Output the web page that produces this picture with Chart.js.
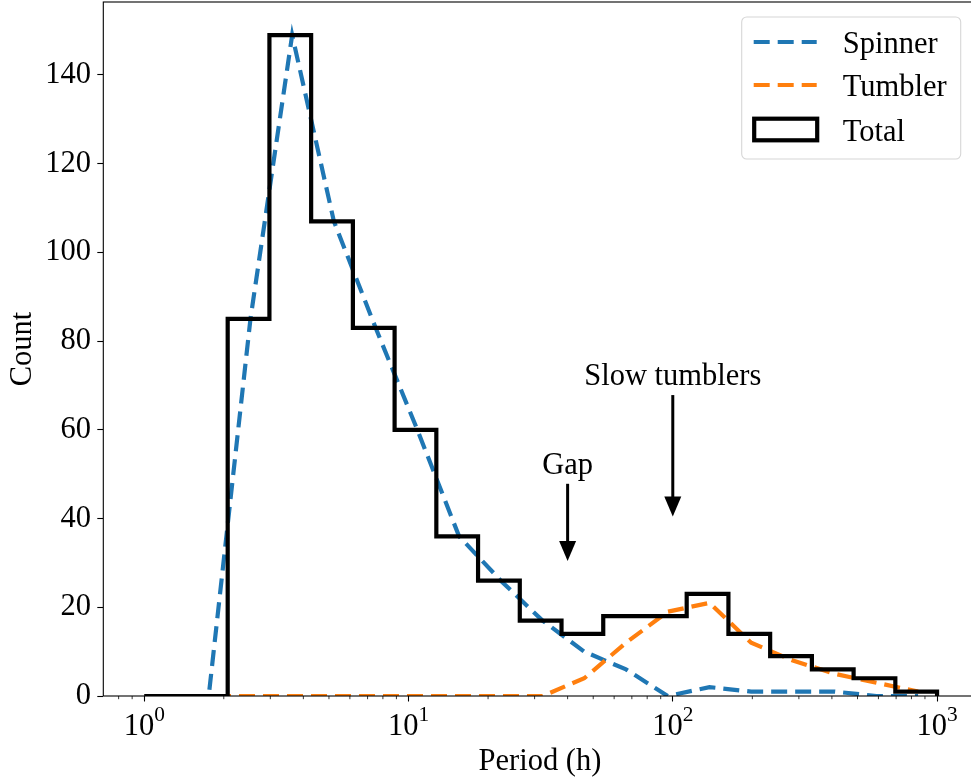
<!DOCTYPE html>
<html lang="en">
    <head>
        <meta charset="utf-8" />
        <script src="https://cdn.jsdelivr.net/npm/chart.js@4.4.1/dist/chart.umd.min.js"></script>
        <style>
            html, body { margin: 0; padding: 0; background: #fff; overflow: hidden; }
            canvas { display: block; }
        </style>
        <title>Period histogram</title>
    </head>
    <body>
        <canvas id="grafico" width="980" height="780"></canvas>
        <script>
            // bin edges (20 edges, log spaced from 1 h to 1000 h)
            const binEdges = [1, 1.4384, 2.0691, 2.9764, 4.2813, 6.1585, 8.8587, 12.743, 18.33, 26.367, 37.927, 54.556, 78.476, 112.88, 162.38, 233.57, 335.98, 483.29, 695.19, 1000];
            // bin centers used by the dashed curves
            const binCenters = [1.2192, 1.7538, 2.5228, 3.6289, 5.2199, 7.5086, 10.801, 15.537, 22.349, 32.147, 46.242, 66.516, 95.678, 137.63, 197.98, 284.78, 409.64, 589.24, 847.6];
            const totalCounts = [0, 0, 85, 149, 107, 83, 60, 36, 26, 17, 14, 18, 18, 23, 14, 9, 6, 4, 1];
            const spinnerCounts = [0, 0, 85, 149, 107, 83, 60, 36, 26, 17, 10, 6, 0, 2, 1, 1, 1, 0, 0];
            const tumblerCounts = [0, 0, 0, 0, 0, 0, 0, 0, 0, 0, 4, 12, 19, 21, 12, 8, 5, 3, 1];
            const seriesLabels = ["Spinner", "Tumbler", "Total"];
            const xMajorTicks = [1, 10, 100, 1000];
            const xTickExponents = ["0", "1", "2", "3"];
            const xMinorTicks = [0.8, 0.9, 2, 3, 4, 5, 6, 7, 8, 9, 20, 30, 40, 50, 60, 70, 80, 90, 200, 300, 400, 500, 600, 700, 800, 900];
            const yTicks = [0, 20, 40, 60, 80, 100, 120, 140];
            // annotations: label, x of arrow, y of text baseline, y of arrow tip
            const annotLabels = ["Gap", "Slow tumblers"];
            const annotX = [40, 100];
            const annotTextY = [50, 70];
            const annotTipY = [30, 40];

            const fuente = "'Liberation Serif', 'Times New Roman', serif";
            const tam = 30.5;
            Chart.defaults.font.family = fuente;
            Chart.defaults.font.size = tam;
            Chart.defaults.color = "#000";

            // step outline of the total histogram
            const totalStep = binEdges.map((e, i) => ({ x: e, y: totalCounts[Math.min(i, totalCounts.length - 1)] }));
            totalStep.push({ x: binEdges[binEdges.length - 1], y: 0 });

            const marco = {
                id: "marco",
                afterDraw(chart) {
                    const { ctx, chartArea: a, scales } = chart;
                    ctx.save();
                    // minor ticks
                    ctx.strokeStyle = "#000";
                    ctx.lineWidth = 0.8;
                    xMinorTicks.forEach((v) => {
                        const px = scales.x.getPixelForValue(v);
                        if (px < a.left || px > a.right) return;
                        ctx.beginPath();
                        ctx.moveTo(px, a.bottom);
                        ctx.lineTo(px, a.bottom + 3.2);
                        ctx.stroke();
                    });
                    // spines
                    ctx.lineWidth = 1.1;
                    ctx.strokeRect(a.left, a.top, a.right - a.left, a.bottom - a.top);

                    // x tick labels as 10 with a raised exponent
                    ctx.fillStyle = "#000";
                    ctx.textBaseline = "alphabetic";
                    ctx.textAlign = "left";
                    const fBase = tam + "px " + fuente;
                    const fExp = (tam * 0.7) + "px " + fuente;
                    xMajorTicks.forEach((v, i) => {
                        const px = scales.x.getPixelForValue(v);
                        ctx.font = fBase;
                        const wb = ctx.measureText("10").width;
                        ctx.font = fExp;
                        const we = ctx.measureText(xTickExponents[i]).width;
                        const x0 = px - (wb + we) / 2;
                        const base = a.bottom + 39;
                        ctx.font = fBase;
                        ctx.fillText("10", x0, base);
                        ctx.font = fExp;
                        ctx.fillText(xTickExponents[i], x0 + wb, base - 14.5);
                    });

                    // annotations with arrows
                    ctx.font = tam + "px " + fuente;
                    ctx.textAlign = "center";
                    annotLabels.forEach((txt, i) => {
                        const px = scales.x.getPixelForValue(annotX[i]);
                        const ty = scales.y.getPixelForValue(annotTextY[i]);
                        const tip = scales.y.getPixelForValue(annotTipY[i]) - 2;
                        ctx.fillText(txt, px, ty);
                        const start = ty + tam * 0.216 + 3;
                        ctx.lineWidth = 3;
                        ctx.beginPath();
                        ctx.moveTo(px, start);
                        ctx.lineTo(px, tip - 18);
                        ctx.stroke();
                        ctx.beginPath();
                        ctx.moveTo(px, tip);
                        ctx.lineTo(px - 8.5, tip - 20);
                        ctx.lineTo(px + 8.5, tip - 20);
                        ctx.closePath();
                        ctx.fill();
                    });

                    // legend box
                    const w = 219, h = 142;
                    const x0 = a.right - 16 - w, y0 = a.top + 15;
                    ctx.beginPath();
                    ctx.roundRect(x0, y0, w, h, 5);
                    ctx.fillStyle = "rgba(255,255,255,0.8)";
                    ctx.fill();
                    ctx.strokeStyle = "#d6d6d6";
                    ctx.lineWidth = 1.1;
                    ctx.stroke();
                    const filas = [25, 68, 112.5];
                    ctx.textAlign = "left";
                    chart.data.datasets.forEach((ds, i) => {
                        const yy = y0 + filas[i];
                        ctx.strokeStyle = ds.borderColor;
                        ctx.lineWidth = ds.borderWidth;
                        if (ds.stepped) {
                            ctx.setLineDash([]);
                            ctx.strokeRect(x0 + 12.5, yy - 10.8, 63, 21.6);
                        } else {
                            ctx.setLineDash(ds.borderDash);
                            ctx.beginPath();
                            ctx.moveTo(x0 + 12, yy);
                            ctx.lineTo(x0 + 75, yy);
                            ctx.stroke();
                            ctx.setLineDash([]);
                        }
                        ctx.fillStyle = "#000";
                        ctx.fillText(ds.label, x0 + 101, yy + 11);
                    });
                    ctx.restore();
                }
            };

            new Chart(document.getElementById("grafico").getContext("2d"), {
                type: "line",
                data: {
                    datasets: [
                        { label: seriesLabels[0], data: binCenters.map((x, i) => ({ x: x, y: spinnerCounts[i] })), borderColor: "#1f77b4", borderWidth: 4.2, borderDash: [16, 8], pointRadius: 0, tension: 0, clip: 0, order: 2 },
                        { label: seriesLabels[1], data: binCenters.map((x, i) => ({ x: x, y: tumblerCounts[i] })), borderColor: "#ff7f0e", borderWidth: 4.2, borderDash: [16, 8], pointRadius: 0, tension: 0, clip: 0, order: 1 },
                        { label: seriesLabels[2], data: totalStep, borderColor: "#000", borderWidth: 4.2, stepped: true, pointRadius: 0, clip: 0, order: 0 }
                    ]
                },
                options: {
                    responsive: false,
                    animation: false,
                    events: [],
                    layout: { padding: { top: 2, right: 3.3, left: 0, bottom: 0 } },
                    plugins: { legend: { display: false }, tooltip: { enabled: false } },
                    scales: {
                        x: {
                            type: "logarithmic",
                            min: Math.pow(10, -0.15),
                            max: Math.pow(10, 3.15),
                            afterBuildTicks: (s) => { s.ticks = xMajorTicks.map((v) => ({ value: v, major: true })); },
                            afterFit: (s) => { s.height = 84; s.paddingLeft = 0; s.paddingRight = 0; },
                            ticks: { display: false },
                            grid: { drawOnChartArea: false, tickLength: 5.5, tickColor: "#000", tickWidth: 1.1 },
                            border: { display: false },
                            title: { display: true, text: "Period (h)", padding: { top: 0, bottom: 0 } }
                        },
                        y: {
                            min: 0,
                            max: 156.45,
                            afterBuildTicks: (s) => { s.ticks = yTicks.map((v) => ({ value: v })); },
                            afterFit: (s) => { s.width = 103.3; s.paddingTop = 0; s.paddingBottom = 0; },
                            ticks: { padding: 6.3 },
                            grid: { drawOnChartArea: false, tickLength: 6, tickColor: "#000", tickWidth: 1.1 },
                            border: { display: false },
                            title: { display: true, text: "Count", padding: { top: 4.7, bottom: 0 } }
                        }
                    }
                },
                plugins: [marco]
            });
        </script>
    </body>
</html>
